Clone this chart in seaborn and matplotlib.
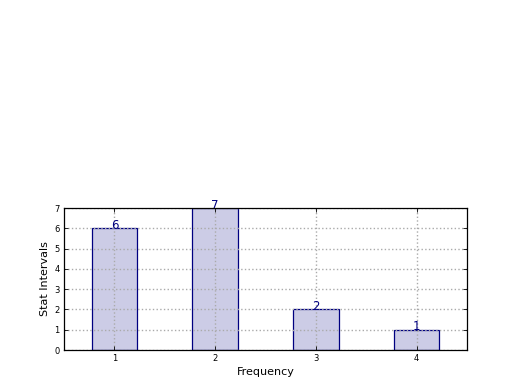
import matplotlib
matplotlib.use("Agg")
import matplotlib.pyplot as plt
import seaborn as sns
import pandas as pd

# data
frequency = [1, 2, 3, 4]
stat_intervals = [6, 7, 2, 1]

sns.set_style("ticks")
plt.rcParams["font.family"] = ["DejaVu Sans"]
plt.rcParams["text.color"] = "black"
plt.rcParams["axes.labelcolor"] = "black"
plt.rcParams["xtick.color"] = "black"
plt.rcParams["ytick.color"] = "black"

df = pd.DataFrame({"Frequency": frequency, "Stat Intervals": stat_intervals})

fig = plt.figure(figsize=(5.2, 3.9), dpi=100)
ax = fig.add_axes([64 / 520, 1 - 350 / 390, (467 - 64) / 520, (350 - 208) / 390])

sns.barplot(data=df, x="Frequency", y="Stat Intervals", ax=ax,
            color="#ccccE6", edgecolor="navy", linewidth=0.9,
            width=0.45, saturation=1, zorder=1)

# labels on top of bars
for i, v in enumerate(stat_intervals):
    ax.annotate(str(v), (i, v), xytext=(0, -0.5), textcoords="offset points",
                ha="center", va="baseline", color="navy", fontsize=8.5,
                zorder=4)

ax.set_xlim(-0.5, len(frequency) - 0.5)
ax.set_ylim(0, 7)
ax.set_yticks(range(0, 8))
ax.set_xlabel("Frequency", fontsize=8, labelpad=3)
ax.set_ylabel("Stat Intervals", fontsize=8, labelpad=3)
ax.tick_params(axis="both", direction="in", top=True, right=True,
               labelsize=6, length=3, width=0.6, pad=3, colors="black")
ax.set_axisbelow(False)
ax.grid(True, linestyle=":", color="#aaaaaa", linewidth=1, zorder=3)
for s in ax.spines.values():
    s.set_visible(True)
    s.set_color("black")
    s.set_linewidth(0.9)
    s.set_zorder(5)

fig.savefig("out.png", dpi=100)
